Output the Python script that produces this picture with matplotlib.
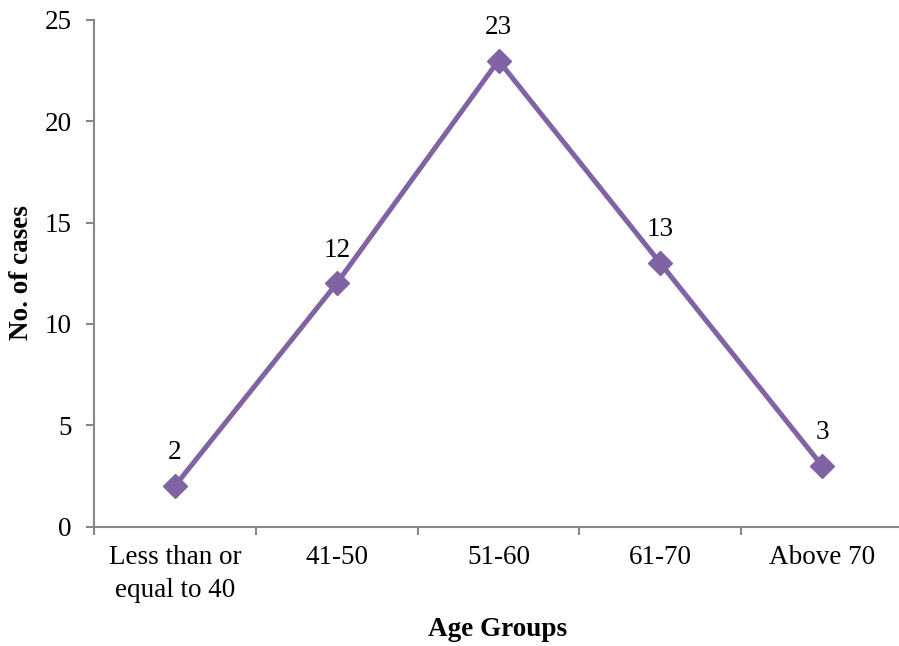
import matplotlib
matplotlib.use("Agg")
import matplotlib.pyplot as plt

categories = ["Less than or\nequal to 40", "41-50", "51-60", "61-70", "Above 70"]
cases = [2, 12, 23, 13, 3]
yticks = [0, 5, 10, 15, 20, 25]

plt.rcParams['font.family'] = ['Liberation Serif', 'DejaVu Serif']

W, H = 899, 646
fig = plt.figure(figsize=(W/100, H/100), dpi=100)
l, r, b, t = 94, 903, 526.5, 20
ax = fig.add_axes([l/W, 1 - b/H, (r - l)/W, (b - t)/H])

FS = 19.5
x = list(range(len(categories)))
color = '#7F63A2'
ax.plot(x, cases, color=color, linewidth=3.6, marker='D', markersize=12.5,
        markerfacecolor=color, markeredgecolor=color, zorder=3)
for xi, v in zip(x, cases):
    ax.annotate(str(v), (xi, v), xytext=(0, 24), textcoords='offset points',
                ha='center', va='center', fontsize=FS, color='black')

ax.set_xlim(-0.5, len(categories) - 0.5)
ax.set_ylim(0, 25)
ax.set_yticks(yticks)
ax.set_xticks(x)
ax.set_xticklabels(categories, fontsize=FS)
ax.set_xticks([i + 0.5 for i in range(-1, len(categories))], minor=True)
ax.tick_params(axis='x', which='major', length=0, pad=13)
ax.tick_params(axis='x', which='minor', length=6, color='#878787', width=1.5)
ax.tick_params(axis='y', length=6, color='#878787', width=1.5, labelsize=FS, pad=10)
for lab in ax.get_xticklabels():
    lab.set_linespacing(1.45)

for s in ['top', 'right']:
    ax.spines[s].set_visible(False)
for s in ['left', 'bottom']:
    ax.spines[s].set_color('#878787')
    ax.spines[s].set_linewidth(1.5)

ax.set_xlabel('Age Groups', fontsize=FS, fontweight='bold', va='center')
ax.xaxis.set_label_coords((498 - l)/(r - l), 1 - (630 - t)/(b - t))
ax.set_ylabel('No. of cases', fontsize=FS, fontweight='bold', va='center')
ax.yaxis.set_label_coords((22 - l)/(r - l), 1 - (273 - t)/(b - t))

fig.savefig('out.png', dpi=100)
